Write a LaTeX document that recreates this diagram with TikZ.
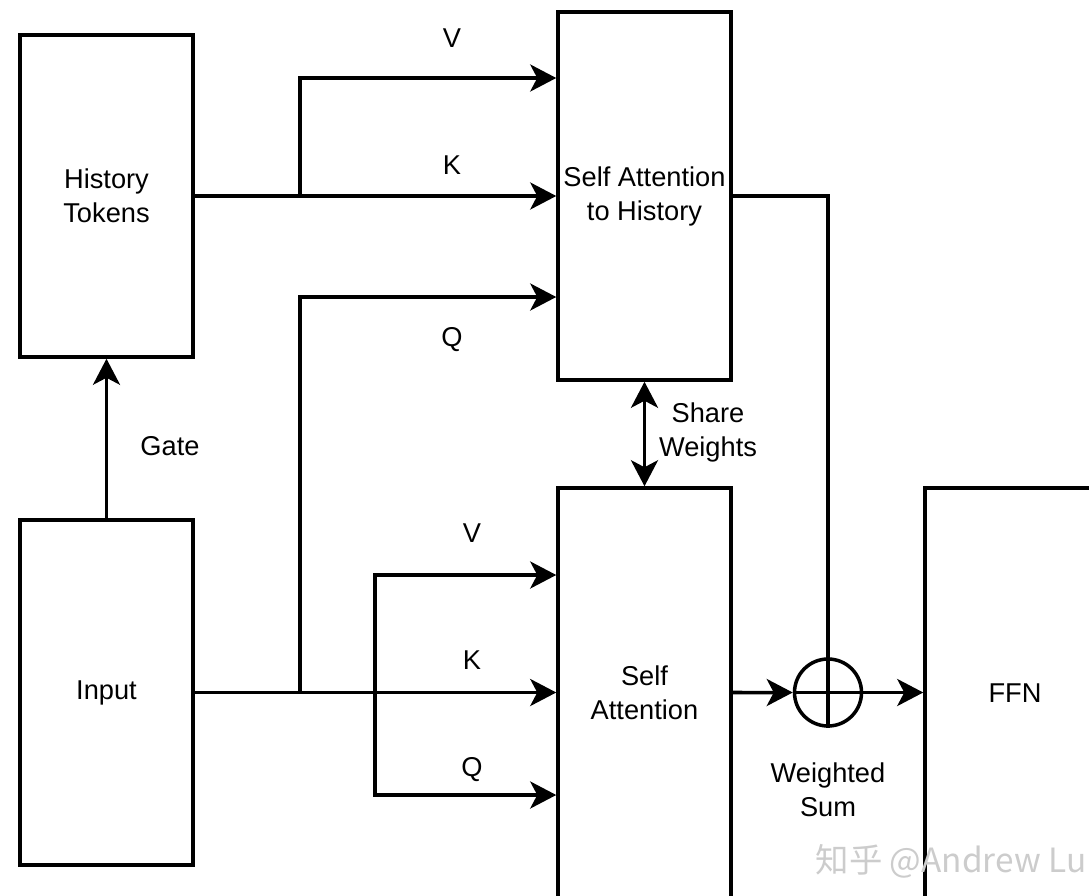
\documentclass[tikz,border=0pt]{standalone}
\usepackage{fontspec}
\setmainfont{Liberation Sans}
\newfontfamily\cjk{Noto Sans CJK SC}
\usetikzlibrary{arrows.meta}

\begin{document}
\begin{tikzpicture}[
    line width=2pt,
    >={Stealth[length=0.52cm,width=0.54cm,inset=0.14cm]},
    font=\fontsize{15.5pt}{19.3pt}\selectfont,
    block/.style={draw,align=center,minimum width=3.46cm,inner sep=0pt},
    lbl/.style={align=center,inner sep=0pt}
  ]
    \useasboundingbox (0,0) rectangle (21.78,-17.92);

    % blocks
    \node[block,minimum height=6.44cm] (hist) at (2.13,-3.92) {History\\Tokens};
    \node[block,minimum height=6.9cm,below of=hist,node distance=9.93cm] (input) {Input};
    \node[block,minimum height=7.36cm,right of=hist,node distance=10.76cm] (sah) {Self Attention\\to History};
    \node[block,minimum height=8.2cm,below of=sah,node distance=9.94cm] (sa) {Self\\Attention};
    \node[block,minimum width=3.6cm,minimum height=8.2cm,right of=sa,node distance=7.41cm] (ffn) {FFN};
    \node[draw,circle,minimum size=1.34cm,inner sep=0pt] (wsum) at (16.56,-13.85) {};

    \coordinate (hbranch) at (6,-3.92);
    \coordinate (ibranch) at (6,-13.85);
    \coordinate (qbranch) at (7.5,-13.85);

    % attention to history
    \draw[->] (hist.east) -- (hist.east -| sah.west);
    \draw[->] (hbranch) |- (sah.west |- 0,-1.56);
    \draw[->] (ibranch) |- (sah.west |- 0,-5.94);

    % self attention
    \draw[->] (input.east) -- (input.east -| sa.west);
    \draw[->] (qbranch) |- (sa.west |- 0,-11.5);
    \draw[->] (qbranch) |- (sa.west |- 0,-15.9);

    \draw[->] (input.north) -- (hist.south);
    \draw[<->] (sah.south) -- (sa.north);

    % weighted sum
    \draw (wsum.west) -- (wsum.east);
    \draw (sah.east) -| (wsum.south);
    \draw[->] (input.east -| sa.east) -- (wsum.west);
    \draw[->] (wsum.east) -- (wsum.east -| ffn.west);

    % labels
    \node[lbl] (vtop) at (9.04,-0.76) {V};
    \node[lbl] (ktop) at (9.04,-3.30) {K};
    \node[lbl] (qtop) at (9.04,-6.80) {Q};
    \node[lbl] (vbot) at (9.44,-10.66) {V};
    \node[lbl] (kbot) at (9.44,-13.20) {K};
    \node[lbl] (qbot) at (9.44,-15.40) {Q};
    \node[lbl] (gate) at (3.40,-8.92) {Gate};
    \node[lbl] (share) at (14.16,-8.64) {Share\\Weights};
    \node[lbl] (wlbl) at (16.56,-15.8) {Weighted\\Sum};

    \node[anchor=west,inner sep=0pt,text=gray!40,font=\cjk\fontsize{19pt}{22pt}\selectfont] (mark) at (16.28,-17.22) {知乎 @Andrew Lu};
\end{tikzpicture}
\end{document}
